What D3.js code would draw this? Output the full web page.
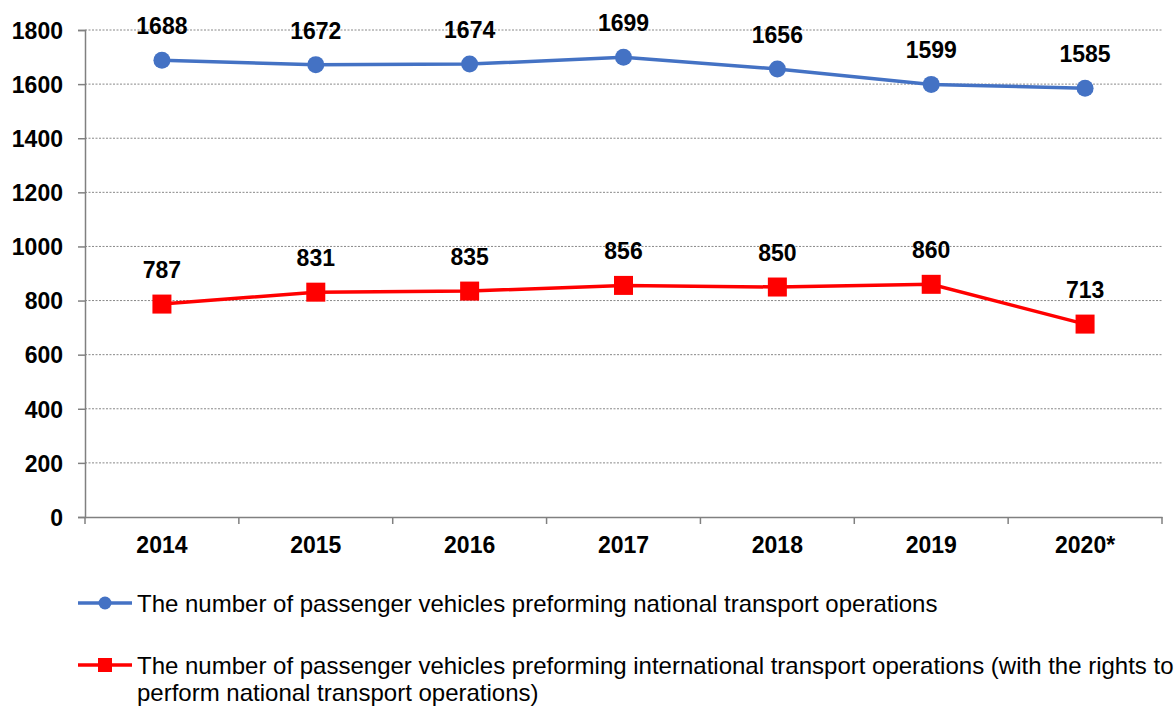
<!DOCTYPE html>
<html lang="en">
<head>
<meta charset="UTF-8">
<title>Passenger vehicles</title>
<script src="https://cdnjs.cloudflare.com/ajax/libs/d3/7.8.5/d3.min.js"></script>
<style>
  body { margin: 0; background: #fff; }
  svg text { font-family: Arial, "Liberation Sans", sans-serif; }
  .tick text { font-weight: bold; font-size: 23px; fill: #000; }
  .grid line { stroke: #888; stroke-dasharray: 2,1.5; stroke-width: 1; }
  .data-label { font-weight: bold; font-size: 23px; text-anchor: middle; }
  .legend-text { font-size: 24px; fill: #000; }
</style>
</head>
<body>
<svg id="chart" width="1176" height="706"></svg>
<script>
// --- Data ---
const years = ["2014", "2015", "2016", "2017", "2018", "2019", "2020*"];
const national = [1688, 1672, 1674, 1699, 1656, 1599, 1585];
const international = [787, 831, 835, 856, 850, 860, 713];
const yTicks = [0, 200, 400, 600, 800, 1000, 1200, 1400, 1600, 1800];

const svg = d3.select("#chart");
const plot = { left: 85, right: 1162, top: 30, bottom: 517 };

const x = d3.scaleBand().domain(years).range([plot.left, plot.right]);
const y = d3.scaleLinear().domain([0, 1800]).range([plot.bottom, plot.top]);

// gridlines
svg.append("g").attr("class", "grid")
  .selectAll("line").data(yTicks.filter(d => d > 0)).join("line")
  .attr("x1", plot.left).attr("x2", plot.right)
  .attr("y1", d => y(d)).attr("y2", d => y(d));

// y axis
const yAxis = svg.append("g").attr("transform", `translate(${plot.left},0)`)
  .call(d3.axisLeft(y).tickValues(yTicks).tickFormat(d3.format("d")).tickSize(7).tickPadding(15));
yAxis.select(".domain").attr("stroke", "#808080").attr("stroke-width", 1.5);
yAxis.selectAll(".tick line").attr("stroke", "#808080").attr("stroke-width", 1.5);
yAxis.selectAll(".tick text").attr("dy", "0.36em");

// x axis
const xAxis = svg.append("g").attr("transform", `translate(0,${plot.bottom})`)
  .call(d3.axisBottom(x).tickSize(0).tickPadding(20));
xAxis.select(".domain").attr("stroke", "#808080").attr("stroke-width", 1.5);
xAxis.selectAll(".tick line").remove();
// category boundary ticks
svg.append("g").selectAll("line")
  .data(years.map(d => x(d)).concat([plot.right])).join("line")
  .attr("x1", d => d).attr("x2", d => d)
  .attr("y1", plot.bottom).attr("y2", plot.bottom + 7)
  .attr("stroke", "#808080").attr("stroke-width", 1.5);

const cx = d => x(d) + x.bandwidth() / 2;
const line = d3.line().x((d, i) => cx(years[i])).y(d => y(d));

// national series
svg.append("path").datum(national).attr("d", line)
  .attr("fill", "none").attr("stroke", "#4472C4").attr("stroke-width", 3.5);
svg.append("g").selectAll("circle").data(national).join("circle")
  .attr("cx", (d, i) => cx(years[i])).attr("cy", d => y(d)).attr("r", 8.5)
  .attr("fill", "#4472C4");
svg.append("g").selectAll("text").data(national).join("text")
  .attr("class", "data-label")
  .attr("x", (d, i) => cx(years[i])).attr("y", d => y(d) - 26)
  .text(d => d);

// international series
svg.append("path").datum(international).attr("d", line)
  .attr("fill", "none").attr("stroke", "#FF0000").attr("stroke-width", 3.5);
svg.append("g").selectAll("rect").data(international).join("rect")
  .attr("x", (d, i) => cx(years[i]) - 9.5).attr("y", d => y(d) - 9.5)
  .attr("width", 19).attr("height", 19).attr("fill", "#FF0000");
svg.append("g").selectAll("text").data(international).join("text")
  .attr("class", "data-label")
  .attr("x", (d, i) => cx(years[i])).attr("y", d => y(d) - 26)
  .text(d => d);

// legend
const lg1 = svg.append("g").attr("transform", "translate(78,603)");
lg1.append("line").attr("x1", 0).attr("x2", 54).attr("stroke", "#4472C4").attr("stroke-width", 3.5);
lg1.append("circle").attr("cx", 27).attr("r", 6.5).attr("fill", "#4472C4");
lg1.append("text").attr("class", "legend-text").attr("x", 59).attr("y", 8.5)
  .text("The number of passenger vehicles preforming national transport operations");

const lg2 = svg.append("g").attr("transform", "translate(78,665)");
lg2.append("line").attr("x1", 0).attr("x2", 54).attr("stroke", "#FF0000").attr("stroke-width", 3.5);
lg2.append("rect").attr("x", 20).attr("y", -7).attr("width", 14).attr("height", 14).attr("fill", "#FF0000");
lg2.append("text").attr("class", "legend-text").attr("x", 59).attr("y", 8.5)
  .text("The number of passenger vehicles preforming international transport operations (with the rights to");
lg2.append("text").attr("class", "legend-text").attr("x", 59).attr("y", 35.5)
  .text("perform national transport operations)");
</script>
</body>
</html>
